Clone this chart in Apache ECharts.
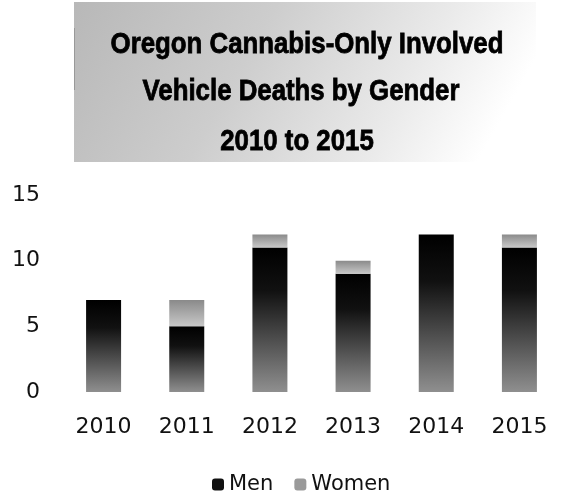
<!DOCTYPE html>
<html><head><meta charset="utf-8">
<script src="https://cdn.jsdelivr.net/npm/echarts@6/dist/echarts.min.js"></script>
<style>html,body{margin:0;padding:0;background:#fff}#c{width:561px;height:491px}</style>
</head><body><div id="c"></div>
<script>
const titleLines = ['Oregon Cannabis-Only Involved', 'Vehicle Deaths by Gender', '2010 to 2015'];
const categories = ['2010', '2011', '2012', '2013', '2014', '2015'];
const men = [7, 5, 11, 9, 12, 11];
const women = [0, 2, 1, 1, 0, 1];
const yTicks = [0, 5, 10, 15];

const chart = echarts.init(document.getElementById('c'), null, {renderer: 'canvas'});
const menColor = {type: 'linear', x: 0, y: 0, x2: 0, y2: 1, colorStops: [
  {offset: 0, color: '#000000'}, {offset: 0.3, color: '#111111'}, {offset: 1, color: '#8f8f8f'}]};
const womenColor = {type: 'linear', x: 0, y: 0, x2: 0, y2: 1, colorStops: [
  {offset: 0, color: '#8a8a8a'}, {offset: 1, color: '#c8c8c8'}]};
const titleCenters = [307, 301, 297];
const titleY = [45, 92, 142];
const titleGraphics = titleLines.map((t, i) => ({
  type: 'text', x: titleCenters[i], y: titleY[i], scaleX: 0.86, z: 2,
  style: {text: t, align: 'center', verticalAlign: 'middle',
    font: 'bold 30px "Liberation Sans", Arial, sans-serif', fill: '#000', stroke: '#000', lineWidth: 0.8}
}));
const labelFont = '"DejaVu Sans", Verdana, sans-serif';
chart.setOption({
  animation: false,
  graphic: [
    {type: 'rect', z: 0, shape: {x: 74, y: 2, width: 462, height: 160},
     style: {fill: {type: 'linear', global: true, x: 74, y: 2, x2: 460, y2: 220, colorStops: [
       {offset: 0, color: '#b8b8b8'}, {offset: 0.4, color: '#cdcdcd'}, {offset: 0.75, color: '#eaeaea'}, {offset: 0.97, color: '#ffffff'}, {offset: 1, color: '#ffffff'}]}}},
    {type: 'line', z: 1, shape: {x1: 74.5, y1: 28, x2: 74.5, y2: 90}, style: {stroke: '#999', lineWidth: 1}},
    ...titleGraphics
  ],
  grid: {left: 62, right: -7, top: 195, bottom: 99},
  legend: {left: 207, top: 469, itemWidth: 12, itemHeight: 12, itemGap: 21,
    textStyle: {fontSize: 21, color: '#111', fontFamily: labelFont},
    data: [{name: 'Men', itemStyle: {color: '#111'}}, {name: 'Women', itemStyle: {color: '#9a9a9a'}}]},
  xAxis: {type: 'category', data: categories, axisLine: {show: false}, axisTick: {show: false},
    axisLabel: {fontSize: 22, color: '#111', margin: 24, fontFamily: labelFont}},
  yAxis: {type: 'value', min: 0, max: 15, interval: 5, splitLine: {show: false},
    axisLine: {show: false}, axisTick: {show: false},
    axisLabel: {fontSize: 22, color: '#111', align: 'right', margin: 22, fontFamily: labelFont,
      formatter: v => yTicks.includes(v) ? String(v) : ''}},
  series: [
    {name: 'Men', type: 'bar', stack: 'g', data: men, barWidth: 35, itemStyle: {color: menColor}},
    {name: 'Women', type: 'bar', stack: 'g', data: women, barWidth: 35, itemStyle: {color: womenColor}}
  ]
});
</script></body></html>
